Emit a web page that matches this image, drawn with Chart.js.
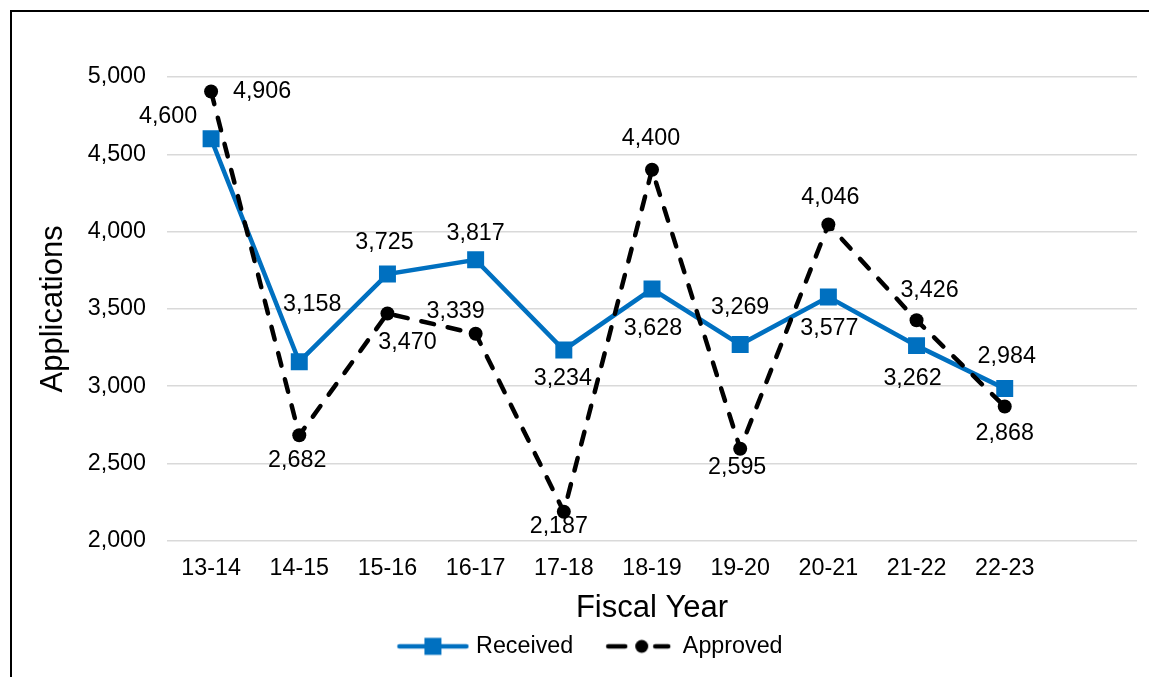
<!DOCTYPE html>
<html>
<head>
<meta charset="utf-8">
<title>Applications by Fiscal Year</title>
<script src="https://cdn.jsdelivr.net/npm/chart.js@4.4.1/dist/chart.umd.min.js"></script>
<style>
    html, body { margin: 0; padding: 0; background: #ffffff; overflow: hidden; }
    #frame {
        position: absolute; left: 10px; top: 10px; width: 1400px; height: 900px;
        border-left: 2px solid #000; border-top: 2px solid #000;
    }
    #wrap { position: absolute; left: 0; top: 0; width: 1149px; height: 677px; }
</style>
</head>
<body>
<div id="frame"></div>
<div id="wrap"><canvas id="chart"></canvas></div>
<script>
// Fiscal years (last slot is left empty on purpose, Excel-style padding)
const fiscalYears = ['13-14', '14-15', '15-16', '16-17', '17-18', '18-19', '19-20', '20-21', '21-22', '22-23', ''];
const received = [4600, 3158, 3725, 3817, 3234, 3628, 3269, 3577, 3262, 2984];
const approved = [4906, 2682, 3470, 3339, 2187, 4400, 2595, 4046, 3426, 2868];

const yMin = 2000;
const yMax = 5000;
const yStep = 500;

// Where each value label sits relative to its point (px)
const receivedLabelPos = [[-43, -22], [13, -57], [-3, -32], [0, -26], [-1, 29], [1, 40], [0, -37], [1, 32], [-4, 33], [2, -32]];
const approvedLabelPos = [[51, 0], [-2, 25], [20, 29], [-20, -22], [-5, 15], [-1, -31], [-3, 19], [2, -27], [13, -30], [0, 27]];

const BLUE = '#0070C0';
const FONT = '"Liberation Sans", Arial, sans-serif';
const SMALL = 23.3;
const SWATCH_BOX = 92;

// Legend swatch: line sample + marker, drawn on a small canvas
// (canvas is a bit wider than the legend box, it gets centred on it)
function makeSwatch(kind) {
    const c = document.createElement('canvas');
    c.width = 102;
    c.height = 24;
    const g = c.getContext('2d');
    g.lineWidth = 4.5;
    g.lineCap = 'round';
    if (kind === 'received') {
        g.strokeStyle = BLUE;
        g.fillStyle = BLUE;
        g.beginPath();
        g.moveTo(32, 12);
        g.lineTo(99, 12);
        g.stroke();
        g.fillRect(65.5 - 8.5, 12 - 8.5, 17, 17);
    } else {
        g.strokeStyle = '#000';
        g.fillStyle = '#000';
        g.beginPath();
        g.moveTo(34, 12); g.lineTo(51, 12);
        g.moveTo(81, 12); g.lineTo(94, 12);
        g.stroke();
        g.beginPath();
        g.arc(67.5, 12, 6.5, 0, Math.PI * 2);
        g.fill();
    }
    return c;
}

const swatches = {
    Received: makeSwatch('received'),
    Approved: makeSwatch('approved')
};

const labelOffsets = {
    Received: receivedLabelPos,
    Approved: approvedLabelPos
};

// Draws the value next to every point
const pointLabels = {
    id: 'pointLabels',
    afterDatasetsDraw(chart) {
        const ctx = chart.ctx;
        ctx.save();
        ctx.font = SMALL + 'px ' + FONT;
        ctx.fillStyle = '#000';
        ctx.textAlign = 'center';
        ctx.textBaseline = 'middle';
        chart.data.datasets.forEach((ds, i) => {
            const meta = chart.getDatasetMeta(i);
            const offs = labelOffsets[ds.label];
            meta.data.forEach((pt, j) => {
                const [dx, dy] = offs[j];
                ctx.fillText(ds.data[j].toLocaleString('en-US'), pt.x + dx, pt.y + dy);
            });
        });
        ctx.restore();
    }
};

// Nudge the legend a little left of the canvas centre
const legendShift = {
    id: 'legendShift',
    afterLayout(chart) {
        if (chart.legend) {
            chart.legend.left -= 8;
            chart.legend.right -= 8;
        }
    }
};

new Chart(document.getElementById('chart'), {
    type: 'line',
    data: {
        labels: fiscalYears,
        datasets: [
            {
                label: 'Received',
                data: received,
                borderColor: BLUE,
                backgroundColor: BLUE,
                borderWidth: 4.5,
                tension: 0,
                pointStyle: 'rect',
                pointRadius: 12,
                pointBorderWidth: 0,
                pointBackgroundColor: BLUE,
                order: 1
            },
            {
                label: 'Approved',
                data: approved,
                borderColor: '#000',
                backgroundColor: '#000',
                borderWidth: 4.5,
                borderDash: [13, 14],
                borderCapStyle: 'round',
                tension: 0,
                pointStyle: 'circle',
                pointRadius: 7,
                pointBorderWidth: 0,
                pointBackgroundColor: '#000',
                order: 0
            }
        ]
    },
    options: {
        responsive: true,
        maintainAspectRatio: false,
        animation: false,
        layout: {
            padding: { left: 33, right: 11, top: 77, bottom: 9 }
        },
        plugins: {
            tooltip: { enabled: false },
            legend: {
                position: 'bottom',
                labels: {
                    usePointStyle: true,
                    pointStyleWidth: SWATCH_BOX,
                    padding: 6,
                    color: '#000',
                    font: { family: FONT, size: SMALL },
                    generateLabels: (chart) => chart.data.datasets.map((ds, i) => ({
                        text: ds.label,
                        pointStyle: swatches[ds.label],
                        fontColor: '#000',
                        lineWidth: 0,
                        strokeStyle: 'transparent',
                        fillStyle: 'transparent',
                        hidden: false,
                        datasetIndex: i
                    }))
                }
            }
        },
        scales: {
            x: {
                offset: true,
                grid: { display: false, drawTicks: false },
                border: { display: false },
                ticks: {
                    color: '#000',
                    padding: 14,
                    maxRotation: 0,
                    autoSkip: false,
                    font: { family: FONT, size: SMALL }
                },
                title: {
                    display: true,
                    text: 'Fiscal Year',
                    color: '#000',
                    padding: { top: 0, bottom: 2 },
                    font: { family: FONT, size: 31 }
                },
                afterFit: (scale) => { scale.height = 88; }
            },
            y: {
                min: yMin,
                max: yMax,
                grid: { color: '#d9d9d9', lineWidth: 1.5, drawTicks: false },
                border: { display: false },
                ticks: {
                    stepSize: yStep,
                    color: '#000',
                    padding: 21,
                    font: { family: FONT, size: SMALL },
                    callback: (v) => v.toLocaleString('en-US')
                },
                title: {
                    display: true,
                    text: 'Applications',
                    color: '#000',
                    padding: { top: 2, bottom: 0 },
                    font: { family: FONT, size: 31 }
                },
                afterFit: (scale) => { scale.width = 134; }
            }
        }
    },
    plugins: [pointLabels, legendShift]
});
</script>
</body>
</html>
